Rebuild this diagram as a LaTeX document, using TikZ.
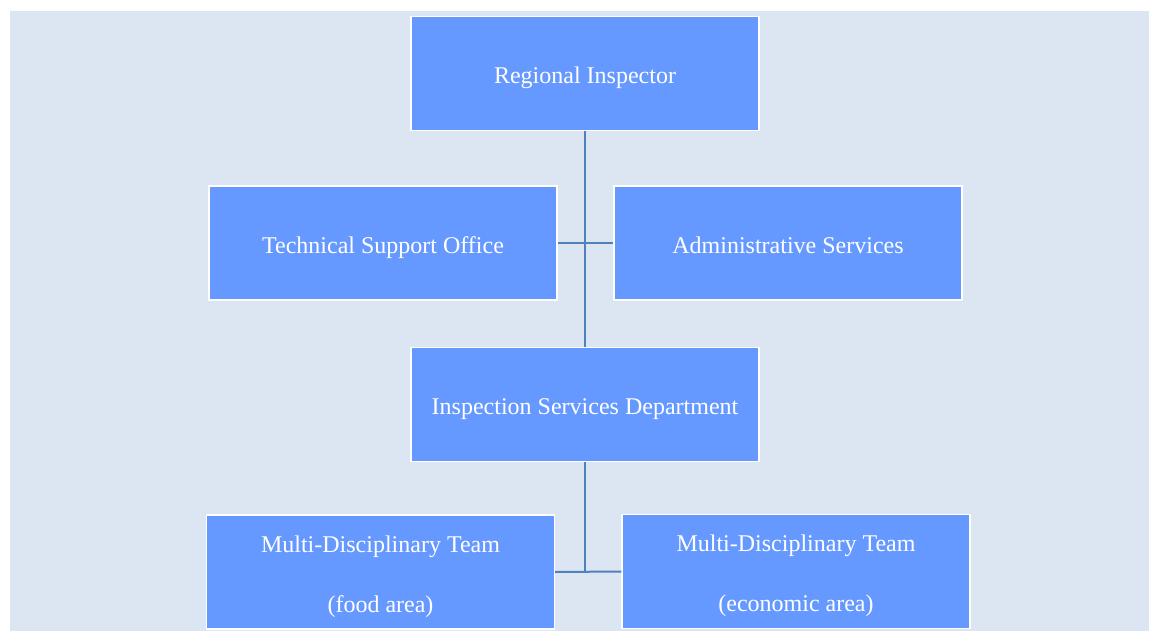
\documentclass[tikz,border=0pt]{standalone}
\usepackage{fontspec}
\setmainfont{Liberation Serif}
\usetikzlibrary{positioning}

\definecolor{pagebg}{HTML}{DCE6F2}
\definecolor{boxfill}{HTML}{6699FF}
\definecolor{linkcol}{HTML}{4F81BD}

\begin{document}
\begin{tikzpicture}[
    x=0.5pt, y=-0.5pt,
    box/.style={rectangle, draw=white, line width=0.6pt, fill=boxfill, text=white, align=center,
        minimum width=174pt, minimum height=57pt, inner sep=0pt, font=\fontsize{12}{14.4}\selectfont},
    unit/.style={box, text height=10pt, text depth=0pt},
    team/.style={box},
    link/.style={draw=linkcol, line width=1pt}
]

\useasboundingbox (0,0) rectangle (1149,631);
\fill[pagebg] (10,11) rectangle (1149,631);

\node[unit] (inspector) at (585,73.5) {Regional Inspector};
\node[unit] (support) at (383,243) {Technical Support Office};
\node[unit] (admin) at (788,243) {Administrative Services};
\node[unit] (department) at (585,404.5) {Inspection Services Department};
\node[team] (foodteam) at (380.5,572) {\rule{0pt}{13pt}Multi-Disciplinary Team\\[15.6pt](food area)};
\node[team] (ecoteam) at (796,571.5) {\rule{0pt}{13pt}Multi-Disciplinary Team\\[15.6pt](economic area)};

\draw[link] (inspector.south) -- (department.north);
\draw[link] (support.east) -- (admin.west);
\draw[link] (department.south) -- (department.south |- foodteam.east);
\draw[link] (foodteam.east) -- (ecoteam.west);

\end{tikzpicture}
\end{document}
